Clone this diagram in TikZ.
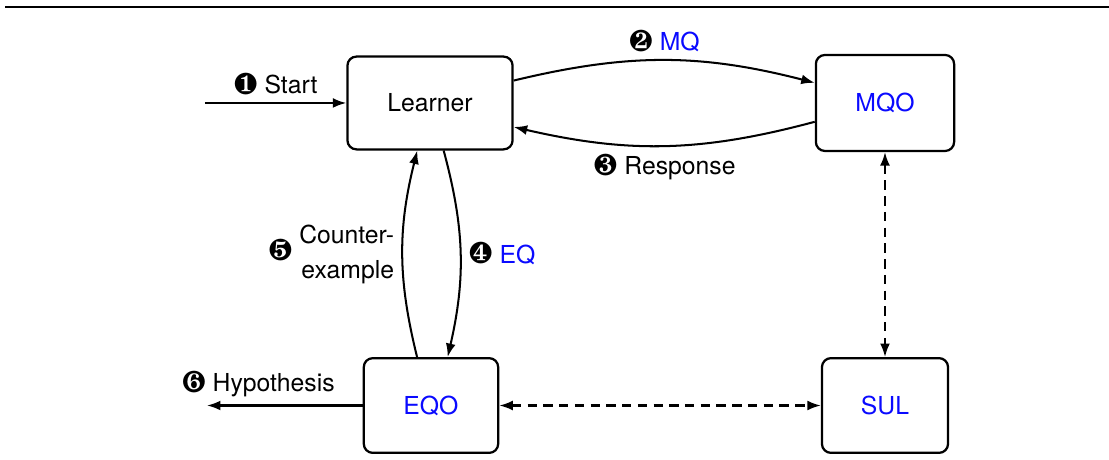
\documentclass[tikz,border=0pt]{standalone}
\usepackage{fontspec}
\setmainfont{TeX Gyre Heros}
\usepackage{pifont}
\usepackage{graphicx}
\usepackage{xcolor}
\usepackage{tikz}
\usetikzlibrary{arrows.meta, positioning}
\definecolor{oracle}{RGB}{10,10,255}
\newcommand{\qmark}[1]{\raisebox{-0.3pt}{\scalebox{1.22}{\ding{#1}}}}
\tikzset{
    block/.style={rectangle, rounded corners=4pt, minimum width=2.1cm, minimum height=1.48cm, text centered, draw, line width=1pt},
    flow/.style={-{Latex[length=6pt, width=4.4pt]}, line width=0.9pt},
    link/.style={{Latex[length=6pt, width=4.4pt]}-{Latex[length=6pt, width=4.4pt]}, line width=0.9pt, dash pattern=on 4.2pt off 2.8pt}
}

\begin{document}
\begin{tikzpicture}[
    font=\fontsize{11}{13.2}\selectfont,
    oq/.style={text=oracle}
]
    \useasboundingbox (0,0) rectangle (17.328,-7.172);
    \draw[line width=1.2pt] (0.08,-0.11) -- (17.328,-0.11);

    % Learner and oracles
    \node[block, minimum width=2.58cm, minimum height=1.45cm] (learner) at (6.719,-1.609) {Learner};
    \node[block, oq, minimum width=2.16cm, minimum height=1.5cm] (mqo) at (13.828,-1.609) {MQO};
    \node[block, oq] (eqo) at (6.734,-6.336) {EQO};
    \node[block, oq, minimum width=1.97cm] (sul) at (13.828,-6.336) {SUL};

    % Free ends
    \coordinate (start) at (3.203,-1.609);
    \coordinate (hyp) at (3.234,-6.336);

    % Queries
    \draw[flow] (start) -- node[above] {\qmark{182} Start} (learner.west);
    \draw[flow] (learner.15) to[bend left=14] node[above] {\qmark{183} \textcolor{oracle}{MQ}} (mqo.164);
    \draw[flow] (mqo.195) to[bend left=14] node[below] {\qmark{184} Response} (learner.344);
    \draw[flow] (learner.286) to[bend left=14] node[right] {\qmark{185} \textcolor{oracle}{EQ}} (eqo.71);
    \draw[flow] (eqo.106) to[bend left=14] node[left] {\qmark{186} \def\arraystretch{1.2}\begin{tabular}{@{}r@{}}Counter-\\example\end{tabular}} (learner.255);
    \draw[flow] (eqo.west) -- node[pos=0.67, above] {\qmark{187} Hypothesis} (hyp);

    % SUL access
    \draw[link] (mqo) -- (sul);
    \draw[link] (eqo) -- (sul);
\end{tikzpicture}
\end{document}
